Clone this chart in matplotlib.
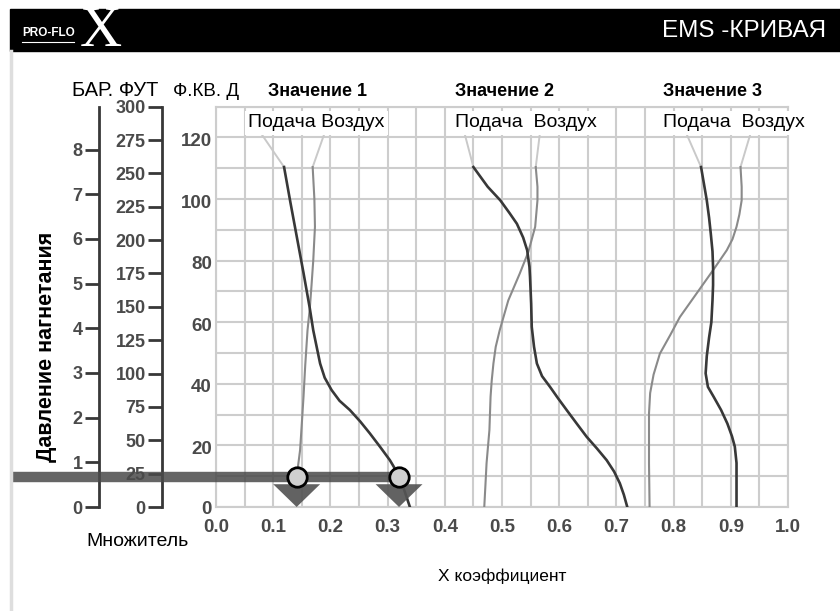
import matplotlib.pyplot as plt
import numpy as np
from matplotlib.lines import Line2D
from matplotlib.patches import Rectangle
from matplotlib.transforms import ScaledTranslation

# curves: (x coefficient, main scale value)
feed1_x = [0.119, 0.130, 0.141, 0.153, 0.164, 0.170, 0.176, 0.182, 0.190, 0.202, 0.216, 0.234,
           0.252, 0.269, 0.287, 0.304, 0.320, 0.330, 0.339]
feed1_y = [110.4, 99, 88, 76, 64.5, 57.4, 52, 46.6, 42, 38, 34.5, 31.5, 27.8, 23.9, 19.5, 15.2,
           10.2, 5, 0]
air1_x = [0.169, 0.172, 0.173, 0.170, 0.167, 0.164, 0.160, 0.156, 0.153, 0.150, 0.147, 0.141]
air1_y = [110.4, 100, 91, 80, 72, 64.5, 57.4, 46, 35.8, 27, 18.5, 9.75]

feed2_x = [0.450, 0.475, 0.497, 0.513, 0.526, 0.537, 0.544, 0.548, 0.549, 0.551, 0.552, 0.556,
           0.561, 0.570, 0.584, 0.598, 0.613, 0.631, 0.648, 0.666, 0.683, 0.696, 0.706, 0.713, 0.719]
feed2_y = [110.4, 104, 99.6, 95.5, 92, 87.5, 83.4, 78, 74.7, 66, 58.5, 52, 46.6, 42.5, 39, 35.3,
           31.5, 27, 22.8, 19, 15.2, 11.5, 7.7, 4, 0]
air2_x = [0.559, 0.562, 0.562, 0.558, 0.546, 0.531, 0.511, 0.496, 0.489, 0.485, 0.482, 0.480,
          0.478, 0.473, 0.471, 0.469]
air2_y = [110.4, 104, 99.6, 91, 82.8, 75.8, 67.1, 57.4, 52, 46.6, 41, 35.8, 25, 14.2, 7, 0]

feed3_x = [0.848, 0.853, 0.858, 0.862, 0.865, 0.868, 0.869, 0.869, 0.868, 0.866, 0.862, 0.858,
           0.856, 0.860, 0.870, 0.883, 0.894, 0.902, 0.907, 0.910, 0.910]
feed3_y = [110.4, 105, 99.6, 94, 88.8, 83, 77.9, 72, 67.1, 60, 55, 49, 43.4, 39, 35.8, 31.5,
           27.1, 23, 19.6, 14.3, 0]
air3_x = [0.917, 0.919, 0.919, 0.915, 0.910, 0.903, 0.893, 0.869, 0.840, 0.811, 0.794, 0.776,
          0.765, 0.759, 0.757, 0.757, 0.758]
air3_y = [110.4, 104, 99.6, 95, 91, 87, 83.4, 76.9, 69.3, 61.7, 55.8, 49.8, 43, 37, 30.4, 14.2, 0]

# where the leader lines from the curve tops end under the labels
feed_lead_x = [0.080, 0.435, 0.823]
air_lead_x = [0.189, 0.566, 0.934]

group_names = ['Значение 1', 'Значение 2', 'Значение 3']
sub_labels = ['Подача Воздух', 'Подача  Воздух', 'Подача  Воздух']
group_x = [0.091, 0.418, 0.781]
sub_x = [0.056, 0.418, 0.781]

bar_ticks = list(range(0, 9))
ft_ticks = list(range(0, 301, 25))
main_yticks = list(range(0, 121, 20))
x_ticks = [round(0.1 * i, 1) for i in range(11)]

op_ft = 22.5                      # operating head on the ft scale
op_x = [0.141, 0.320]             # where the band meets air and feed curve of value 1

W, H = 840, 611
Y_TOP = 130.0                     # main scale top (grid top)
FT_TOP = 300.0
BAR_TOP = 8.96

SANS = ['Liberation Sans', 'DejaVu Sans']
COND = ['Liberation Sans Narrow', 'Liberation Sans', 'DejaVu Sans']
plt.rcParams['font.family'] = SANS

DARK = '#383838'
LIGHT = '#8a8a8a'
GRID = '#cdcdcd'
TICKC = '#4a4a4a'


def fy(py):
    return 1 - py / H


fig = plt.figure(figsize=(W / 100, H / 100), dpi=100)

bottom = fy(507)
height = (507 - 106.7) / H

# left scales
bax = fig.add_axes([99.3 / W, bottom, 0.0001, height], facecolor='none')
fax = fig.add_axes([162.3 / W, bottom, 0.0001, height], facecolor='none')
for a, top, ticks in [(bax, BAR_TOP, bar_ticks), (fax, FT_TOP, ft_ticks)]:
    a.set_ylim(0, top)
    a.set_xticks([])
    a.set_yticks(ticks)
    for s in ['right', 'top', 'bottom']:
        a.spines[s].set_visible(False)
    a.spines['left'].set_color(DARK)
    a.spines['left'].set_linewidth(2)
    a.tick_params(axis='y', direction='out', length=10, width=2, color=DARK, pad=2,
                  labelcolor=TICKC)
    for lab in a.get_yticklabels():
        lab.set_fontfamily(COND)
        lab.set_fontweight('bold')
        lab.set_fontsize(13)

# main chart
ax = fig.add_axes([216 / W, bottom, 572 / W, height], facecolor='none')
ax.set_xlim(0, 1)
ax.set_ylim(0, Y_TOP)
ax.set_xticks(x_ticks)
ax.set_xticks(np.arange(0.05, 1.0, 0.1), minor=True)
ax.set_yticks(main_yticks)
ax.set_yticks(np.arange(10, 131, 20), minor=True)
ax.set_xticklabels([f'{v:.1f}' for v in x_ticks])
ax.grid(True, which='both', color=GRID, lw=1.5)
ax.set_axisbelow(True)
for s in ax.spines.values():
    s.set_color(GRID)
    s.set_linewidth(1.5)
ax.tick_params(which='both', length=0)
ax.tick_params(axis='x', pad=9, labelcolor=TICKC)
ax.tick_params(axis='y', pad=3, labelcolor=TICKC)
for lab in ax.get_xticklabels() + ax.get_yticklabels():
    lab.set_fontfamily(COND)
    lab.set_fontweight('bold')
    lab.set_fontsize(13.5)
shift = ScaledTranslation(0, -1.5 / 72, fig.dpi_scale_trans)
for lab in ax.get_yticklabels()[1:]:
    lab.set_transform(lab.get_transform() + shift)

curves = [(feed1_x, feed1_y, air1_x, air1_y),
          (feed2_x, feed2_y, air2_x, air2_y),
          (feed3_x, feed3_y, air3_x, air3_y)]
for i, (fxs, fys, axs, ays) in enumerate(curves):
    ax.plot([fxs[0], feed_lead_x[i]], [fys[0], 121], color='#c9c9c9', lw=1.4, zorder=2)
    ax.plot([axs[0], air_lead_x[i]], [ays[0], 121], color='#c9c9c9', lw=1.4, zorder=2)
    ax.plot(axs, ays, color=LIGHT, lw=1.5, zorder=3)
    ax.plot(fxs, fys, color=DARK, lw=1.9, zorder=3)
    ax.text(sub_x[i], 124.8, sub_labels[i], fontsize=14, va='center', ha='left', zorder=4,
            bbox=dict(facecolor='white', edgecolor='none', pad=2.5))
    ax.text(group_x[i], 134.8, group_names[i], fontsize=13, fontweight='bold', va='center',
            ha='left', clip_on=False)

# operating band, markers and arrows
op_y = op_ft * Y_TOP / FT_TOP
ax.plot([-0.357, op_x[1]], [op_y, op_y], color='#4a4a4a', alpha=0.85, lw=7.5,
        solid_capstyle='butt', clip_on=False, zorder=5)
for xv in op_x:
    ax.fill([xv - 0.041, xv + 0.041, xv], [7.4, 7.4, 0], color='#555555', alpha=0.92,
            lw=0, zorder=6, clip_on=False)
ax.plot(op_x, [op_y] * len(op_x), 'o', ms=14, mfc='#cfcfcf', mec='black', mew=2, zorder=7,
        clip_on=False)

# texts around the chart
fig.text(72 / W, fy(91), 'БАР. ФУТ', fontsize=14.5, va='center', ha='left')
fig.text(173 / W, fy(91), 'Ф.КВ. Д', fontsize=13.5, va='center', ha='left')
fig.text(137 / W, fy(541), 'Множитель', fontsize=14, va='center', ha='center')
fig.text(502 / W, fy(576), 'X коэффициент', fontsize=12.5, va='center', ha='center')
fig.text(47 / W, fy(347), 'Давление нагнетания', fontsize=15.5, fontweight='bold',
         rotation=90, va='center', ha='center')

# header band
fig.add_artist(Rectangle((10 / W, fy(51)), 1, 42 / H, transform=fig.transFigure,
                         color='black', zorder=0))
fig.add_artist(Line2D([11 / W, 11 / W], [0, fy(51)], color='#dedede', lw=2.5))
fig.text(662 / W, fy(31), 'EMS -КРИВАЯ', color='white', fontsize=17.5, va='center', ha='left')
fig.text(22 / W, fy(33), 'PRO-FLO', color='white', fontsize=8.5, fontweight='bold',
         family=COND, va='center', ha='left')
fig.add_artist(Line2D([22 / W, 74 / W], [fy(42), fy(42)], color='white', lw=0.8))
fig.text(80 / W, fy(32), 'X', color='white', fontsize=42, family=['Liberation Serif', 'DejaVu Serif'],
         va='center', ha='left')

fig.savefig('out.png', dpi=100)
